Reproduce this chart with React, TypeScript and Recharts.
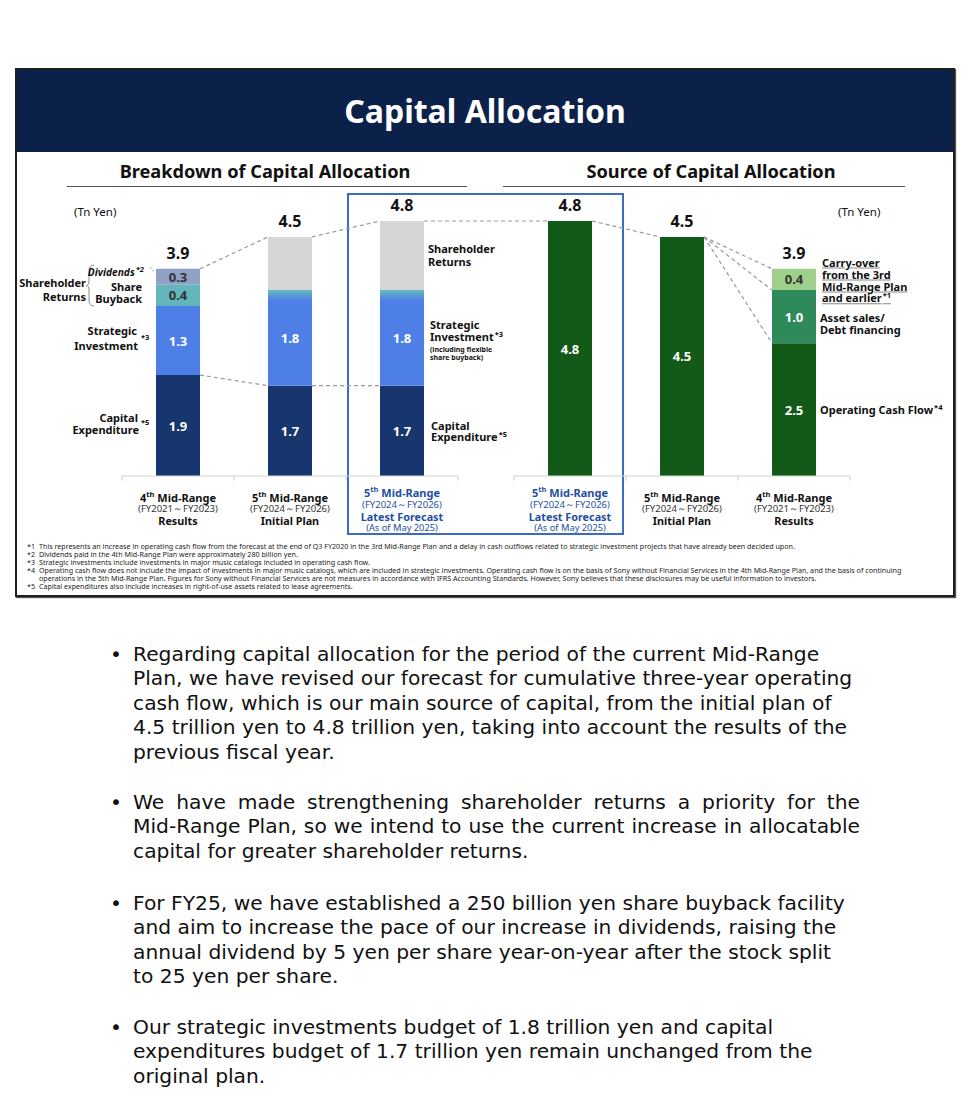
import React from 'react';
import { ComposedChart, Bar, XAxis, YAxis, Scatter, ReferenceLine, LabelList, Cell } from 'recharts';

// ---------- data ----------
const categories = [
  '4th Mid-Range Results',
  '5th Mid-Range Initial Plan',
  '5th Mid-Range Latest Forecast (use)',
  '5th Mid-Range Latest Forecast (source)',
  '5th Mid-Range Initial Plan (source)',
  '4th Mid-Range Results (source)',
];
const groups = ['use', 'use', 'use', 'source', 'source', 'source'];
const capex = [1.9, 1.7, 1.7, null, null, null];
const strategic = [1.3, 1.8, 1.8, null, null, null];
const buyback = [0.4, null, null, null, null, null];
const dividends = [0.3, null, null, null, null, null];
const shareholderReturns = [null, 1.0, 1.3, null, null, null];
const operatingCF = [null, null, null, 4.8, 4.5, 2.5];
const assetSales = [null, null, null, null, null, 1.0];
const carryOver = [null, null, null, null, null, 0.4];
const totals = [3.9, 4.5, 4.8, 4.8, 4.5, 3.9];
const ordinals = ['4', '5', '5', '5', '5', '4'];
const periods = ['(FY2021～FY2023)', '(FY2024～FY2026)', '(FY2024～FY2026)', '(FY2024～FY2026)', '(FY2024～FY2026)', '(FY2021～FY2023)'];
const captions = ['Results', 'Initial Plan', 'Latest Forecast', 'Latest Forecast', 'Initial Plan', 'Results'];
const subcaptions = ['', '', '(As of May 2025)', '(As of May 2025)', '', ''];
const highlighted = [false, false, true, true, false, false];

// ---------- layout constants ----------
const W = 972;
const CH = 600;
const PLOT_L = 122;
const PLOT_R = 850;
const BASE_Y = 476;
const Y_MAX = 6;
const PX_PER_UNIT = 53.125;
const X_MAX = 6.5;
const BAR_SIZE = 44;
const LAB_AXIS_H = 60;

const FONT = '"Noto Sans", "DejaVu Sans", sans-serif';
const BODY_FONT = '"DejaVu Sans", "Noto Sans", sans-serif';

const xPos = categories.map((_, i) => i + 0.5 + (groups[i] === 'source' ? 0.5 : 0));
const rows = categories.map((name, i) => ({
  name,
  x: xPos[i],
  capex: capex[i],
  strategic: strategic[i],
  buyback: buyback[i],
  dividends: dividends[i],
  shareholderReturns: shareholderReturns[i],
  operatingCF: operatingCF[i],
  assetSales: assetSales[i],
  carryOver: carryOver[i],
  total: totals[i],
}));

const halfBar = BAR_SIZE / 2 / ((PLOT_R - PLOT_L) / X_MAX);
const connectors: [number, number, number, number][] = [
  [0, totals[0], 1, totals[1]],
  [0, capex[0] as number, 1, capex[1] as number],
  [1, totals[1], 2, totals[2]],
  [1, capex[1] as number, 2, capex[2] as number],
  [2, totals[2], 3, totals[3]],
  [3, totals[3], 4, totals[4]],
  [4, totals[4], 5, totals[5]],
  [4, totals[4], 5, (operatingCF[5] as number) + (assetSales[5] as number)],
  [4, totals[4], 5, operatingCF[5] as number],
];

const C = {
  navy: '#0b2149',
  capex: '#17366d',
  strategic: '#4e7fe7',
  teal: '#63b6ba',
  dividends: '#8fa1c5',
  gray: '#d6d6d6',
  green: '#135a19',
  midGreen: '#2e8a5b',
  lightGreen: '#a0cf8c',
  blue: '#1f4ea3',
  box: '#3a6cc6',
};

const segLabel = (color: string) => (props: any) => {
  const { x, y, width, height, value } = props;
  if (value == null || !value || !height) return null;
  return (
    <text
      x={Number(x) + Number(width) / 2}
      y={Number(y) + Number(height) / 2}
      textAnchor="middle"
      dominantBaseline="central"
      fill={color}
      fontSize={13}
      fontWeight={700}
      fontFamily={FONT}
    >
      {Number(value).toFixed(1)}
    </text>
  );
};

const TotalShape = (props: any) => {
  const { cx, cy, payload } = props;
  return (
    <text x={cx} y={cy - 16} textAnchor="middle" dominantBaseline="central" fontSize={16} fontWeight={700} fill="#111" fontFamily={FONT}>
      {Number(payload.total).toFixed(1)}
    </text>
  );
};

const CatTick = (props: any) => {
  const { x, payload } = props;
  const i = xPos.indexOf(payload.value);
  if (i < 0) return null;
  const hi = highlighted[i];
  const col = hi ? C.blue : '#111';
  const off = hi ? [16, 28, 40, 51.5] : [21, 32.5, 44, 0];
  const y0 = BASE_Y;
  return (
    <g fontFamily={FONT}>
      <text x={x} y={y0 + off[0]} textAnchor="middle" dominantBaseline="central" fontSize={11} fontWeight={700} fill={col}>
        <tspan>{ordinals[i]}</tspan>
        <tspan dy={-3.5} fontSize={7.5}>th</tspan>
        <tspan dy={3.5}> Mid-Range</tspan>
      </text>
      <text x={x} y={y0 + off[1]} textAnchor="middle" dominantBaseline="central" fontSize={9.5} fill={hi ? C.blue : '#333'}>
        {periods[i]}
      </text>
      <text x={x} y={y0 + off[2]} textAnchor="middle" dominantBaseline="central" fontSize={10.8} fontWeight={700} fill={col}>
        {captions[i]}
      </text>
      {subcaptions[i] ? (
        <text x={x} y={y0 + off[3]} textAnchor="middle" dominantBaseline="central" fontSize={9.3} fill={col}>
          {subcaptions[i]}
        </text>
      ) : null}
    </g>
  );
};

// ---------- html text helpers ----------
type TProps = {
  x: number;
  y: number;
  children: React.ReactNode;
  align?: 'left' | 'right' | 'center';
  size?: number;
  weight?: number;
  color?: string;
  style?: React.CSSProperties;
};
const T = ({ x, y, children, align = 'left', size = 11, weight = 700, color = '#111', style }: TProps) => (
  <div
    style={{
      position: 'absolute',
      left: x,
      top: y,
      transform: `translate(${align === 'right' ? '-100%' : align === 'center' ? '-50%' : '0'}, -50%)`,
      fontSize: size,
      fontWeight: weight,
      color,
      whiteSpace: 'nowrap',
      lineHeight: 1,
      ...style,
    }}
  >
    {children}
  </div>
);
const Sup = ({ children }: { children: React.ReactNode }) => (
  <span style={{ fontSize: 7.5, position: 'relative', top: -4, marginLeft: 1 }}>{children}</span>
);

const footnotes = [
  ['*1', 'This represents an increase in operating cash flow from the forecast at the end of Q3 FY2020 in the 3rd Mid-Range Plan and a delay in cash outflows related to strategic investment projects that have already been decided upon.'],
  ['*2', 'Dividends paid in the 4th Mid-Range Plan were approximately 280 billion yen.'],
  ['*3', 'Strategic investments include investments in major music catalogs included in operating cash flow.'],
  ['*4', 'Operating cash flow does not include the impact of investments in major music catalogs, which are included in strategic investments. Operating cash flow is on the basis of Sony without Financial Services in the 4th Mid-Range Plan, and the basis of continuing'],
  ['', 'operations in the 5th Mid-Range Plan. Figures for Sony without Financial Services are not measures in accordance with IFRS Accounting Standards. However, Sony believes that these disclosures may be useful information to investors.'],
  ['*5', 'Capital expenditures also include increases in right-of-use assets related to lease agreements.'],
];

const paragraphs: { y: number; lines: string[]; justify: boolean }[] = [
  {
    y: 654,
    justify: false,
    lines: [
      'Regarding capital allocation for the period of the current Mid-Range',
      'Plan, we have revised our forecast for cumulative three-year operating',
      'cash flow, which is our main source of capital, from the initial plan of',
      '4.5 trillion yen to 4.8 trillion yen, taking into account the results of the',
      'previous fiscal year.',
    ],
  },
  {
    y: 802,
    justify: true,
    lines: [
      'We have made strengthening shareholder returns a priority for the',
      'Mid-Range Plan, so we intend to use the current increase in allocatable',
      'capital for greater shareholder returns.',
    ],
  },
  {
    y: 903,
    justify: false,
    lines: [
      'For FY25, we have established a 250 billion yen share buyback facility',
      'and aim to increase the pace of our increase in dividends, raising the',
      'annual dividend by 5 yen per share year-on-year after the stock split',
      'to 25 yen per share.',
    ],
  },
  {
    y: 1027,
    justify: false,
    lines: [
      'Our strategic investments budget of 1.8 trillion yen and capital',
      'expenditures budget of 1.7 trillion yen remain unchanged from the',
      'original plan.',
    ],
  },
];
const LINE_H = 24.5;
const BODY_SIZE = 20.25;

export default function App() {
  return (
    <div
      style={{
        position: 'absolute',
        left: 0,
        top: 0,
        width: W,
        height: 1119,
        background: '#fff',
        fontFamily: FONT,
        overflow: 'hidden',
        color: '#111',
      }}
    >
      {/* slide frame */}
      <div
        style={{
          position: 'absolute',
          left: 15,
          top: 68,
          width: 940,
          height: 529,
          boxSizing: 'border-box',
          border: '2px solid #1e1e1e',
          boxShadow: '1px 1px 1px #555',
          background: '#fff',
        }}
      />
      <div style={{ position: 'absolute', left: 17, top: 70, width: 936, height: 82, background: C.navy }} />
      <T x={485} y={111} align="center" size={32} color="#fff">
        Capital Allocation
      </T>

      {/* section headers */}
      <T x={265} y={171} align="center" size={18.2}>
        Breakdown of Capital Allocation
      </T>
      <div style={{ position: 'absolute', left: 67, top: 185.5, width: 400, height: 1, background: '#555' }} />
      <T x={711} y={171} align="center" size={18.2}>
        Source of Capital Allocation
      </T>
      <div style={{ position: 'absolute', left: 503, top: 185.5, width: 402, height: 1, background: '#555' }} />

      {/* highlight box */}
      <div
        style={{
          position: 'absolute',
          left: 347,
          top: 193,
          width: 277,
          height: 342,
          boxSizing: 'border-box',
          border: `2px solid ${C.box}`,
        }}
      />

      <T x={74} y={212} size={11.5} weight={400}>
        (Tn Yen)
      </T>
      <T x={838} y={212} size={11.5} weight={400}>
        (Tn Yen)
      </T>

      {/* chart */}
      <div style={{ position: 'absolute', left: 0, top: 0, width: W, height: CH }}>
        <ComposedChart
          width={W}
          height={CH}
          data={rows}
          margin={{ top: BASE_Y - Y_MAX * PX_PER_UNIT, bottom: CH - BASE_Y - LAB_AXIS_H, left: PLOT_L, right: W - PLOT_R }}
        >
          <defs>
            <linearGradient id="stratGrad" x1="0" y1="0" x2="0" y2="1">
              <stop offset="0" stopColor="#66b9c0" />
              <stop offset="0.11" stopColor={C.strategic} />
              <stop offset="1" stopColor={C.strategic} />
            </linearGradient>
          </defs>
          <XAxis xAxisId={0} dataKey="x" type="number" domain={[0, X_MAX]} hide height={0} />
          <XAxis
            xAxisId="lab"
            dataKey="x"
            type="number"
            domain={[0, X_MAX]}
            ticks={xPos}
            interval={0}
            height={LAB_AXIS_H}
            axisLine={false}
            tickLine={false}
            tickSize={0}
            tick={<CatTick />}
          />
          <YAxis type="number" domain={[0, Y_MAX]} hide width={0} />

          <Bar dataKey="capex" stackId="s" fill={C.capex} barSize={BAR_SIZE} isAnimationActive={false}>
            <LabelList dataKey="capex" content={segLabel('#fff')} />
          </Bar>
          <Bar dataKey="strategic" stackId="s" fill={C.strategic} barSize={BAR_SIZE} isAnimationActive={false}>
            {rows.map((r, i) => (
              <Cell key={i} fill={r.buyback ? C.strategic : 'url(#stratGrad)'} />
            ))}
            <LabelList dataKey="strategic" content={segLabel('#fff')} />
          </Bar>
          <Bar dataKey="buyback" stackId="s" fill={C.teal} barSize={BAR_SIZE} isAnimationActive={false}>
            <LabelList dataKey="buyback" content={segLabel('#333')} />
          </Bar>
          <Bar dataKey="dividends" stackId="s" fill={C.dividends} barSize={BAR_SIZE} isAnimationActive={false}>
            <LabelList dataKey="dividends" content={segLabel('#333')} />
          </Bar>
          <Bar dataKey="shareholderReturns" stackId="s" fill={C.gray} barSize={BAR_SIZE} isAnimationActive={false} />
          <Bar dataKey="operatingCF" stackId="s" fill={C.green} barSize={BAR_SIZE} isAnimationActive={false}>
            <LabelList dataKey="operatingCF" content={segLabel('#fff')} />
          </Bar>
          <Bar dataKey="assetSales" stackId="s" fill={C.midGreen} barSize={BAR_SIZE} isAnimationActive={false}>
            <LabelList dataKey="assetSales" content={segLabel('#fff')} />
          </Bar>
          <Bar dataKey="carryOver" stackId="s" fill={C.lightGreen} barSize={BAR_SIZE} isAnimationActive={false}>
            <LabelList dataKey="carryOver" content={segLabel('#333')} />
          </Bar>

          {connectors.map(([a, va, b, vb], k) => (
            <ReferenceLine
              key={'c' + k}
              segment={[
                { x: xPos[a] + halfBar, y: va },
                { x: xPos[b] - halfBar, y: vb },
              ]}
              stroke="#9a9a9a"
              strokeWidth={1.2}
              strokeDasharray="4 3"
              ifOverflow="visible"
            />
          ))}

          {/* baseline with group ticks */}
          <ReferenceLine segment={[{ x: 0, y: 0 }, { x: 3, y: 0 }]} stroke="#d4d4d4" strokeWidth={1.2} ifOverflow="visible" />
          <ReferenceLine segment={[{ x: 3.5, y: 0 }, { x: X_MAX, y: 0 }]} stroke="#d4d4d4" strokeWidth={1.2} ifOverflow="visible" />
          {[0, 1, 2, 3, 3.5, 4.5, 5.5, 6.5].map((t) => (
            <ReferenceLine
              key={'t' + t}
              segment={[{ x: t, y: 0 }, { x: t, y: -0.09 }]}
              stroke="#d4d4d4"
              strokeWidth={1.2}
              ifOverflow="visible"
            />
          ))}

          <Scatter dataKey="total" shape={<TotalShape />} isAnimationActive={false} />
        </ComposedChart>
      </div>

      {/* left annotations */}
      <T x={86} y={282} align="right">Shareholder</T>
      <T x={86} y={296} align="right">Returns</T>
      <svg style={{ position: 'absolute', left: 0, top: 0 }} width={W} height={CH} pointerEvents="none">
        <path d="M94,265 Q89,265 89,271 L89,281 Q89,285.5 86,285.5 Q89,285.5 89,290 L89,300 Q89,306 94,306" stroke="#8a8a8a" strokeWidth={1} fill="none" />
        <line x1={150} y1={267} x2={154} y2={272} stroke="#9a9a9a" strokeWidth={1} strokeDasharray="2 1.5" />
      </svg>
      <T x={144} y={272} align="right" size={10.2} style={{ fontStyle: 'italic' }}>
        Dividends<Sup>*2</Sup>
      </T>
      <T x={142} y={286} align="right">Share</T>
      <T x={142} y={298} align="right">Buyback</T>
      <T x={137} y={330} align="right">Strategic</T>
      <T x={138} y={345} align="right">Investment</T>
      <T x={141} y={338} size={7.5}>*3</T>
      <T x={138} y={417} align="right">Capital</T>
      <T x={139} y={429} align="right">Expenditure</T>
      <T x={141} y={423} size={7.5}>*5</T>

      {/* middle annotations */}
      <T x={428} y={248}>Shareholder</T>
      <T x={428} y={261}>Returns</T>
      <T x={430} y={324}>Strategic</T>
      <T x={430} y={337}>
        Investment<Sup>*3</Sup>
      </T>
      <T x={430} y={349} size={7}>(including flexible</T>
      <T x={430} y={357} size={7}>share buyback)</T>
      <T x={431} y={425}>Capital</T>
      <T x={431} y={437}>
        Expenditure<Sup>*5</Sup>
      </T>

      {/* right annotations */}
      {['Carry-over', 'from the 3rd', 'Mid-Range Plan'].map((s, i) => (
        <T key={s} x={822} y={262 + i * 12} style={{ textDecoration: 'underline', textDecorationColor: '#888', textUnderlineOffset: 1 }}>
          {s}
        </T>
      ))}
      <T x={822} y={298} style={{ textDecoration: 'underline', textDecorationColor: '#888', textUnderlineOffset: 1 }}>
        and earlier<Sup>*1</Sup>
      </T>
      <T x={820} y={317}>Asset sales/</T>
      <T x={820} y={329}>Debt financing</T>
      <T x={820} y={410}>
        Operating Cash Flow<Sup>*4</Sup>
      </T>

      {/* footnotes */}
      <div style={{ position: 'absolute', left: 27, top: 542, fontSize: 7.15, lineHeight: '8px', color: '#222' }}>
        {footnotes.map(([k, t], i) => (
          <div key={i} style={{ whiteSpace: 'nowrap', display: 'flex' }}>
            <span style={{ width: 12, display: 'inline-block' }}>{k}</span>
            <span>{t}</span>
          </div>
        ))}
      </div>

      {/* bullet text */}
      {paragraphs.map((p, pi) => (
        <div key={pi} style={{ position: 'absolute', left: 0, top: p.y - LINE_H / 2, width: W, fontFamily: BODY_FONT }}>
          <div style={{ position: 'absolute', left: 110, top: 0, fontSize: BODY_SIZE, lineHeight: `${LINE_H}px` }}>•</div>
          {p.lines.map((ln, li) => (
            <div
              key={li}
              style={{
                position: 'absolute',
                left: 133,
                top: li * LINE_H,
                width: 727,
                fontSize: BODY_SIZE,
                lineHeight: `${LINE_H}px`,
                whiteSpace: 'nowrap',
                textAlign: p.justify && li < p.lines.length - 1 ? 'justify' : 'left',
                textAlignLast: p.justify && li < p.lines.length - 1 ? 'justify' : 'left',
                color: '#111',
              }}
            >
              {ln}
            </div>
          ))}
        </div>
      ))}
    </div>
  );
}
